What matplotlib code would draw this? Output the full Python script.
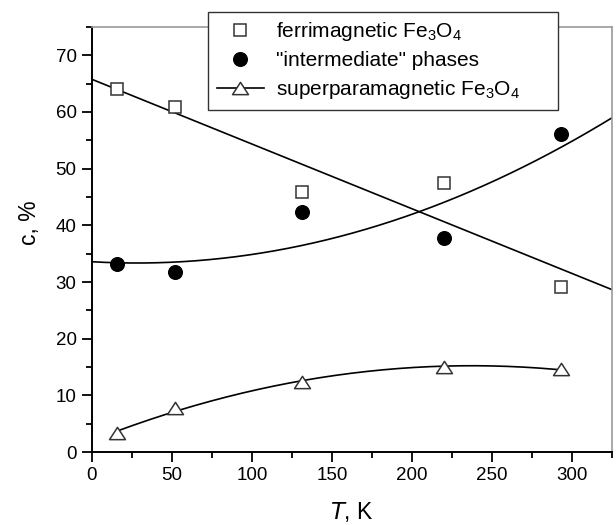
import matplotlib
matplotlib.use("Agg")
import matplotlib.pyplot as plt
from matplotlib.path import Path
import numpy as np

plt.rcParams['font.family'] = ['Liberation Sans', 'DejaVu Sans']
plt.rcParams['mathtext.default'] = 'regular'

# temperature, K
T = [16, 52, 131, 220, 293]
# phase content, %
ferri = [64.1, 60.9, 45.9, 47.4, 29.2]
interm = [33.2, 31.7, 42.3, 37.8, 56.2]
superpara = [3.3, 7.8, 12.4, 15.0, 14.6]

fig = plt.figure(figsize=(6.16, 5.25), dpi=100)
ax = fig.add_axes([0.149, 0.139, 0.845, 0.8096])

# fitted curves
tt = np.linspace(0, 325, 200)
ax.plot(tt, np.polyval(np.polyfit(T, ferri, 1), tt), color='k', lw=1.2)
ax.plot(tt, np.polyval(np.polyfit(T, interm, 2), tt), color='k', lw=1.2)
ts = np.linspace(T[0], T[-1], 200)
ax.plot(ts, np.polyval(np.polyfit(T, superpara, 2), ts), color='k', lw=1.2)

# flattened triangle like the original
tri = Path([(0, 0.77), (-1, -0.77), (1, -0.77), (0, 0.77)],
           [Path.MOVETO, Path.LINETO, Path.LINETO, Path.CLOSEPOLY])
ax.plot(T, ferri, ls='none', marker='s', ms=8.6, mfc='white', mec='#333333', mew=1.1)
ax.plot(T, interm, ls='none', marker='o', ms=9.8, mfc='black', mec='black')
ax.plot(T, superpara, ls='none', marker=tri, ms=11.5, mfc='white', mec='#333333', mew=1.1)

ax.set_xlim(0, 325)
ax.set_ylim(0, 75)
ax.set_xticks(np.arange(0, 301, 50))
ax.set_xticks(np.arange(0, 326, 25), minor=True)
ax.set_yticks(np.arange(0, 71, 10))
ax.set_yticks(np.arange(0, 76, 5), minor=True)
ax.tick_params(which='both', direction='out', width=1.3, labelsize=13.5, top=False, right=False)
ax.tick_params(which='major', length=7, pad=4)
ax.tick_params(which='minor', length=4.5)
for s in ['left', 'bottom']:
    ax.spines[s].set_linewidth(1.4)
for s in ['top', 'right']:
    ax.spines[s].set_color('#999999')
    ax.spines[s].set_linewidth(1.2)

ax.set_xlabel('$\\mathit{T}$, K', fontsize=16.5, labelpad=11)
ax.set_ylabel('c, %', fontsize=16.5)
ax.yaxis.set_label_coords(-0.097, 0.54)

# legend handles
h1, = ax.plot([], [], ls='none', marker='s', ms=8.6, mfc='white', mec='#333333', mew=1.1)
h2, = ax.plot([], [], ls='none', marker='o', ms=9.8, mfc='black', mec='black')
h3, = ax.plot([], [], color='k', lw=1.2, marker=tri, ms=11.5, mfc='white', mec='#333333', mew=1.1)
pad = '\u00a0' * 6  # original box is wider than its text
leg = fig.legend([h1, h2, h3],
                 ['ferrimagnetic Fe$_3$O$_4$', '"intermediate" phases',
                  'superparamagnetic Fe$_3$O$_4$' + pad],
                 loc='upper left', bbox_to_anchor=(0.338, 0.977), borderaxespad=0,
                 fontsize=15, frameon=True, fancybox=False, edgecolor='#333333',
                 framealpha=1, handlelength=2.3, handletextpad=0.55,
                 labelspacing=0.38, borderpad=0.4)
leg.get_frame().set_linewidth(1.0)

fig.savefig('out.png', dpi=100)
